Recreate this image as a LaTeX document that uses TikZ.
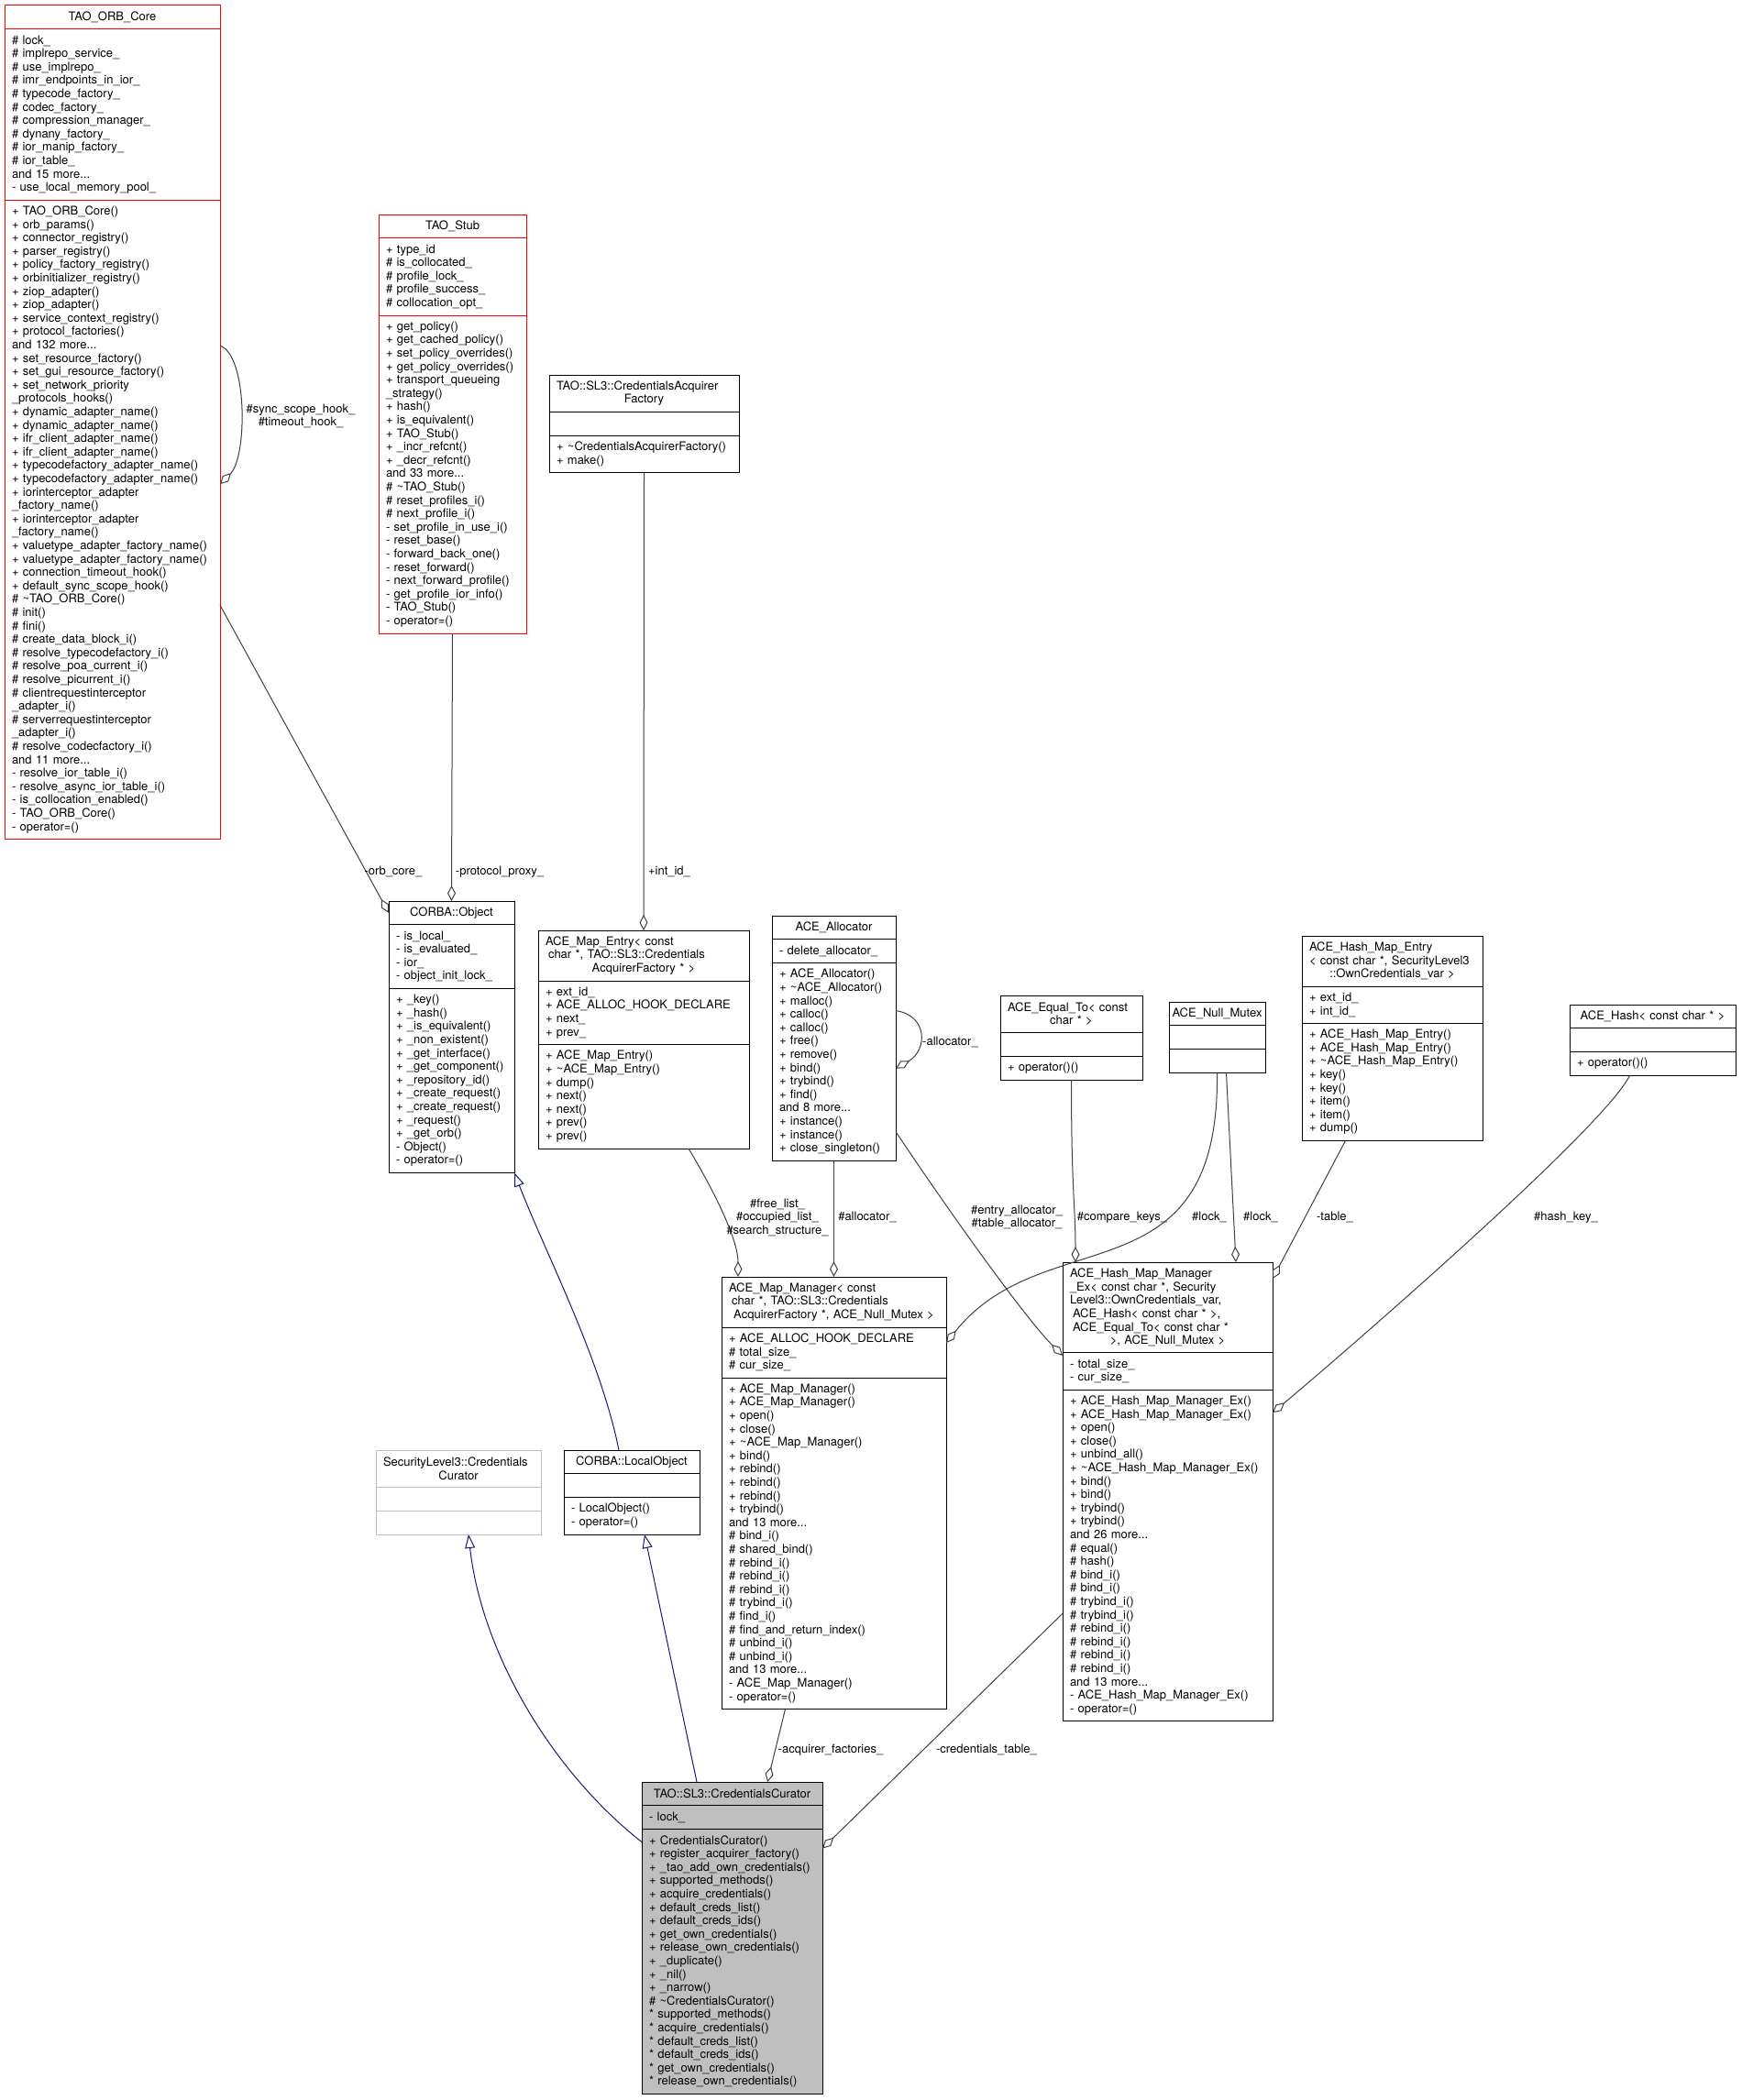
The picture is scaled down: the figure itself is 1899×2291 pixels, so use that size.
\documentclass[tikz,border=0pt]{standalone}
\usepackage{fontspec}
\setmainfont{TeX Gyre Heros}
\usepackage{tikz}
\usetikzlibrary{positioning,arrows.meta}

\definecolor{edgegray}{HTML}{404040}
\definecolor{inhblue}{HTML}{191970}
\definecolor{boxgray}{HTML}{BFBFBF}
\newcommand{\umlfont}{\fontsize{13}{14.6}\selectfont}

\begin{document}
\begin{tikzpicture}[x=1pt,y=1pt,
    sec/.style={draw=black, line width=1pt, inner xsep=8pt, inner ysep=0pt,
        outer sep=0pt, align=left, font=\umlfont},
    hd/.style={sec, align=center},
    rows/.style={minimum height=14.6*#1+11.2},
    agg/.style={edgegray, line width=1pt, -{Diamond[open,length=17pt,width=9pt]}},
    isa/.style={inhblue, line width=1pt, -{Triangle[open,length=15pt,width=11pt]}},
    lbl/.style={font=\umlfont, inner sep=0pt, align=center}]

    \useasboundingbox (0,0) rectangle (1899,-2291);

    % TAO_ORB_Core (red: truncated class)
    \node[hd, draw=red, text width=219pt, rows=1, anchor=north west] (orbT) at (5,-6) {TAO\_ORB\_Core};
    \node[sec, draw=red, text width=219pt, rows=12, below=0pt of orbT] (orbA)
        {\# lock\_\\\# implrepo\_service\_\\\# use\_implrepo\_\\\# imr\_endpoints\_in\_ior\_\\
         \# typecode\_factory\_\\\# codec\_factory\_\\\# compression\_manager\_\\\# dynany\_factory\_\\
         \# ior\_manip\_factory\_\\\# ior\_table\_\\and 15 more...\\- use\_local\_memory\_pool\_};
    \node[sec, draw=red, text width=219pt, rows=47, below=0pt of orbA] (orbM)
        {+ TAO\_ORB\_Core()\\+ orb\_params()\\+ connector\_registry()\\+ parser\_registry()\\
         + policy\_factory\_registry()\\+ orbinitializer\_registry()\\+ ziop\_adapter()\\+ ziop\_adapter()\\
         + service\_context\_registry()\\+ protocol\_factories()\\and 132 more...\\
         + set\_resource\_factory()\\+ set\_gui\_resource\_factory()\\+ set\_network\_priority\\
         \_protocols\_hooks()\\+ dynamic\_adapter\_name()\\+ dynamic\_adapter\_name()\\
         + ifr\_client\_adapter\_name()\\+ ifr\_client\_adapter\_name()\\
         + typecodefactory\_adapter\_name()\\+ typecodefactory\_adapter\_name()\\
         + iorinterceptor\_adapter\\\_factory\_name()\\+ iorinterceptor\_adapter\\\_factory\_name()\\
         + valuetype\_adapter\_factory\_name()\\+ valuetype\_adapter\_factory\_name()\\
         + connection\_timeout\_hook()\\+ default\_sync\_scope\_hook()\\\# \textasciitilde{}TAO\_ORB\_Core()\\
         \# init()\\\# fini()\\\# create\_data\_block\_i()\\\# resolve\_typecodefactory\_i()\\
         \# resolve\_poa\_current\_i()\\\# resolve\_picurrent\_i()\\\# clientrequestinterceptor\\
         \_adapter\_i()\\\# serverrequestinterceptor\\\_adapter\_i()\\\# resolve\_codecfactory\_i()\\
         and 11 more...\\- resolve\_ior\_table\_i()\\- resolve\_async\_ior\_table\_i()\\
         - is\_collocation\_enabled()\\- TAO\_ORB\_Core()\\- operator=()};

    % TAO_Stub (red: truncated class)
    \node[hd, draw=red, text width=145pt, rows=1, anchor=north west] (stubT) at (413,-234) {TAO\_Stub};
    \node[sec, draw=red, text width=145pt, rows=5, below=0pt of stubT] (stubA)
        {+ type\_id\\\# is\_collocated\_\\\# profile\_lock\_\\\# profile\_success\_\\\# collocation\_opt\_};
    \node[sec, draw=red, text width=145pt, rows=23, below=0pt of stubA] (stubM)
        {+ get\_policy()\\+ get\_cached\_policy()\\+ set\_policy\_overrides()\\+ get\_policy\_overrides()\\
         + transport\_queueing\\\_strategy()\\+ hash()\\+ is\_equivalent()\\+ TAO\_Stub()\\
         + \_incr\_refcnt()\\+ \_decr\_refcnt()\\and 33 more...\\\# \textasciitilde{}TAO\_Stub()\\
         \# reset\_profiles\_i()\\\# next\_profile\_i()\\- set\_profile\_in\_use\_i()\\- reset\_base()\\
         - forward\_back\_one()\\- reset\_forward()\\- next\_forward\_profile()\\
         - get\_profile\_ior\_info()\\- TAO\_Stub()\\- operator=()};

    % TAO::SL3::CredentialsAcquirerFactory
    \node[sec, text width=191pt, rows=2, anchor=north west] (facT) at (599,-409)
        {TAO::SL3::CredentialsAcquirer\\\makebox[\hsize]{Factory}};
    \node[sec, text width=191pt, rows=1, below=0pt of facT] (facA) {};
    \node[sec, text width=191pt, rows=2, below=0pt of facA] (facM)
        {+ \textasciitilde{}CredentialsAcquirerFactory()\\+ make()};

    % CORBA::Object
    \node[hd, text width=121pt, rows=1, anchor=north west] (objT) at (424,-983) {CORBA::Object};
    \node[sec, text width=121pt, rows=4, below=0pt of objT] (objA)
        {- is\_local\_\\- is\_evaluated\_\\- ior\_\\- object\_init\_lock\_};
    \node[sec, text width=121pt, rows=13, below=0pt of objA] (objM)
        {+ \_key()\\+ \_hash()\\+ \_is\_equivalent()\\+ \_non\_existent()\\+ \_get\_interface()\\
         + \_get\_component()\\+ \_repository\_id()\\+ \_create\_request()\\+ \_create\_request()\\
         + \_request()\\+ \_get\_orb()\\- Object()\\- operator=()};

    % ACE_Map_Entry
    \node[sec, text width=214pt, rows=3, anchor=north west] (entT) at (587,-1015)
        {ACE\_Map\_Entry< const\\\hspace*{3pt}char *, TAO::SL3::Credentials\\
         \makebox[\hsize]{AcquirerFactory * >}};
    \node[sec, text width=214pt, rows=4, below=0pt of entT] (entA)
        {+ ext\_id\_\\+ ACE\_ALLOC\_HOOK\_DECLARE\\+ next\_\\+ prev\_};
    \node[sec, text width=214pt, rows=7, below=0pt of entA] (entM)
        {+ ACE\_Map\_Entry()\\+ \textasciitilde{}ACE\_Map\_Entry()\\+ dump()\\+ next()\\+ next()\\
         + prev()\\+ prev()};

    % ACE_Allocator
    \node[hd, text width=119pt, rows=1, anchor=north west] (allocT) at (842,-999) {ACE\_Allocator};
    \node[sec, text width=119pt, rows=1, below=0pt of allocT] (allocA) {- delete\_allocator\_};
    \node[sec, text width=119pt, rows=14, below=0pt of allocA] (allocM)
        {+ ACE\_Allocator()\\+ \textasciitilde{}ACE\_Allocator()\\+ malloc()\\+ calloc()\\+ calloc()\\
         + free()\\+ remove()\\+ bind()\\+ trybind()\\+ find()\\and 8 more...\\+ instance()\\
         + instance()\\+ close\_singleton()};

    % ACE_Equal_To
    \node[sec, text width=139pt, rows=2, anchor=north west] (eqT) at (1091,-1086)
        {ACE\_Equal\_To< const\\\makebox[\hsize]{char * >}};
    \node[sec, text width=139pt, rows=1, below=0pt of eqT] (eqA) {};
    \node[sec, text width=139pt, rows=1, below=0pt of eqA] (eqM) {+ operator()()};

    % ACE_Null_Mutex
    \node[hd, inner xsep=3pt, text width=99pt, rows=1, anchor=north west] (mtxT) at (1275,-1093) {ACE\_Null\_Mutex};
    \node[sec, inner xsep=3pt, text width=99pt, rows=1, below=0pt of mtxT] (mtxA) {};
    \node[sec, inner xsep=3pt, text width=99pt, rows=1, below=0pt of mtxA] (mtxM) {};

    % ACE_Hash_Map_Entry
    \node[sec, text width=181pt, rows=3, anchor=north west] (hentT) at (1420,-1021)
        {ACE\_Hash\_Map\_Entry\\< const char *, SecurityLevel3\\
         \makebox[\hsize]{::OwnCredentials\_var >}};
    \node[sec, text width=181pt, rows=2, below=0pt of hentT] (hentA) {+ ext\_id\_\\+ int\_id\_};
    \node[sec, text width=181pt, rows=8, below=0pt of hentA] (hentM)
        {+ ACE\_Hash\_Map\_Entry()\\+ ACE\_Hash\_Map\_Entry()\\+ \textasciitilde{}ACE\_Hash\_Map\_Entry()\\
         + key()\\+ key()\\+ item()\\+ item()\\+ dump()};

    % ACE_Hash
    \node[hd, text width=165pt, rows=1, anchor=north west] (hashT) at (1712,-1096) {ACE\_Hash< const char * >};
    \node[sec, text width=165pt, rows=1, below=0pt of hashT] (hashA) {};
    \node[sec, text width=165pt, rows=1, below=0pt of hashA] (hashM) {+ operator()()};

    % ACE_Map_Manager
    \node[sec, text width=229pt, rows=3, anchor=north west] (mgrT) at (787,-1393)
        {ACE\_Map\_Manager< const\\\hspace*{3pt}char *, TAO::SL3::Credentials\\
         \makebox[\hsize]{AcquirerFactory *, ACE\_Null\_Mutex >}};
    \node[sec, text width=229pt, rows=3, below=0pt of mgrT] (mgrA)
        {+ ACE\_ALLOC\_HOOK\_DECLARE\\\# total\_size\_\\\# cur\_size\_};
    \node[sec, text width=229pt, rows=24, below=0pt of mgrA] (mgrM)
        {+ ACE\_Map\_Manager()\\+ ACE\_Map\_Manager()\\+ open()\\+ close()\\+ \textasciitilde{}ACE\_Map\_Manager()\\
         + bind()\\+ rebind()\\+ rebind()\\+ rebind()\\+ trybind()\\and 13 more...\\\# bind\_i()\\
         \# shared\_bind()\\\# rebind\_i()\\\# rebind\_i()\\\# rebind\_i()\\\# trybind\_i()\\\# find\_i()\\
         \# find\_and\_return\_index()\\\# unbind\_i()\\\# unbind\_i()\\and 13 more...\\
         - ACE\_Map\_Manager()\\- operator=()};

    % ACE_Hash_Map_Manager_Ex
    \node[sec, text width=213pt, rows=6, anchor=north west] (hmgrT) at (1159,-1377)
        {ACE\_Hash\_Map\_Manager\\\_Ex< const char *, Security\\Level3::OwnCredentials\_var,\\
         \hspace*{3pt}ACE\_Hash< const char * >,\\\hspace*{3pt}ACE\_Equal\_To< const char *\\
         \makebox[\hsize]{>, ACE\_Null\_Mutex >}};
    \node[sec, text width=213pt, rows=2, below=0pt of hmgrT] (hmgrA) {- total\_size\_\\- cur\_size\_};
    \node[sec, text width=213pt, rows=24, below=0pt of hmgrA] (hmgrM)
        {+ ACE\_Hash\_Map\_Manager\_Ex()\\+ ACE\_Hash\_Map\_Manager\_Ex()\\+ open()\\+ close()\\
         + unbind\_all()\\+ \textasciitilde{}ACE\_Hash\_Map\_Manager\_Ex()\\+ bind()\\+ bind()\\+ trybind()\\
         + trybind()\\and 26 more...\\\# equal()\\\# hash()\\\# bind\_i()\\\# bind\_i()\\\# trybind\_i()\\
         \# trybind\_i()\\\# rebind\_i()\\\# rebind\_i()\\\# rebind\_i()\\\# rebind\_i()\\and 13 more...\\
         - ACE\_Hash\_Map\_Manager\_Ex()\\- operator=()};

    % SecurityLevel3::CredentialsCurator (grey: not documented)
    \node[sec, draw=boxgray, text width=164pt, rows=2, anchor=north west] (slT) at (410,-1582)
        {SecurityLevel3::Credentials\\\makebox[\hsize]{Curator}};
    \node[sec, draw=boxgray, text width=164pt, rows=1, below=0pt of slT] (slA) {};
    \node[sec, draw=boxgray, text width=164pt, rows=1, below=0pt of slA] (slM) {};

    % CORBA::LocalObject
    \node[hd, text width=132pt, rows=1, anchor=north west] (loT) at (615,-1582) {CORBA::LocalObject};
    \node[sec, text width=132pt, rows=1, below=0pt of loT] (loA) {};
    \node[sec, text width=132pt, rows=2, below=0pt of loA] (loM) {- LocalObject()\\- operator=()};

    % TAO::SL3::CredentialsCurator
    \node[hd, fill=boxgray, text width=181pt, rows=1, anchor=north west] (curT) at (700,-1944)
        {TAO::SL3::CredentialsCurator};
    \node[sec, fill=boxgray, text width=181pt, rows=1, below=0pt of curT] (curA) {- lock\_};
    \node[sec, fill=boxgray, text width=181pt, rows=19, below=0pt of curA] (curM)
        {+ CredentialsCurator()\\+ register\_acquirer\_factory()\\+ \_tao\_add\_own\_credentials()\\
         + supported\_methods()\\+ acquire\_credentials()\\+ default\_creds\_list()\\
         + default\_creds\_ids()\\+ get\_own\_credentials()\\+ release\_own\_credentials()\\
         + \_duplicate()\\+ \_nil()\\+ \_narrow()\\\# \textasciitilde{}CredentialsCurator()\\
         {*} supported\_methods()\\{*} acquire\_credentials()\\{*} default\_creds\_list()\\
         {*} default\_creds\_ids()\\{*} get\_own\_credentials()\\{*} release\_own\_credentials()};

    % aggregation edges
    \draw[agg] ([yshift=-159pt]orbM.north east) .. controls +(30,-10) and +(30,30) .. ([yshift=-310pt]orbM.north east);
    \node[lbl] (lHook) at (328,-454) {\#sync\_scope\_hook\_\\\#timeout\_hook\_};
    \draw[agg] ([yshift=-442pt]orbM.north east) -- (objT.west);
    \node[lbl] (lOrb) at (429,-951) {-orb\_core\_};
    \draw[agg] (stubM.south) -- (objT.north);
    \node[lbl] (lProxy) at (545,-951) {-protocol\_proxy\_};
    \draw[agg] (facM.south) -- (entT.north);
    \node[lbl] (lIntId) at (730,-951) {+int\_id\_};
    \draw[agg] ([yshift=-52pt]allocM.north east) .. controls +(35,-5) and +(35,20) .. ([yshift=-115pt]allocM.north east);
    \node[lbl, anchor=west] (lAlloc) at (1006,-1137) {-allocator\_};
    \draw[agg] (allocM.south) -- (mgrT.north);
    \node[lbl] (lAllocMgr) at (946,-1328) {\#allocator\_};
    \draw[agg] ([xshift=49pt]entM.south) .. controls +(30,-50) and +(0,40) .. ([xshift=-104.5pt]mgrT.north);
    \node[lbl] (lLists) at (848,-1328) {\#free\_list\_\\\#occupied\_list\_\\\#search\_structure\_};
    \draw[agg] ([yshift=-184pt]allocM.north east) .. controls +(60,-90) and +(-40,40) .. ([yshift=-3pt]hmgrA.north west);
    \node[lbl] (lEntAlloc) at (1109,-1328) {\#entry\_allocator\_\\\#table\_allocator\_};
    \draw[agg] (eqM.south) .. controls +(0,-120) and +(0,60) .. ([xshift=-100.5pt]hmgrT.north);
    \node[lbl] (lCmp) at (1224,-1328) {\#compare\_keys\_};
    \draw[agg] (mtxM.south) .. controls +(3,-250) and +(108,135) .. ([yshift=-17pt]mgrA.north east);
    \node[lbl] (lLockA) at (1319,-1328) {\#lock\_};
    \draw[agg] ([xshift=10pt]mtxM.south) -- ([xshift=74.5pt]hmgrT.north);
    \node[lbl] (lLockB) at (1375,-1328) {\#lock\_};
    \draw[agg] ([xshift=-51pt]hentM.south) -- ([yshift=-18pt]hmgrT.north east);
    \node[lbl] (lTable) at (1456,-1328) {-table\_};
    \draw[agg] ([xshift=-25pt]hashM.south) .. controls +(-30,-60) and +(60,50) .. ([yshift=-25pt]hmgrM.north east);
    \node[lbl] (lHashKey) at (1708,-1328) {\#hash\_key\_};
    \draw[agg] ([xshift=-53pt]mgrM.south) -- ([xshift=38.5pt]curT.north);
    \node[lbl] (lFactories) at (906,-1909) {-acquirer\_factories\_};
    \draw[agg] ([yshift=-244pt]hmgrM.north west) -- ([yshift=-21pt]curM.north east);
    \node[lbl] (lCredTable) at (1076,-1909) {-credentials\_table\_};

    % inheritance edges
    \draw[isa] ([yshift=-14pt]curM.north west) .. controls +(-100,79) and +(14,-127) .. ([xshift=11pt]slM.south);
    \draw[isa] ([xshift=-38.5pt]curT.north) -- ([xshift=14pt]loM.south);
    \draw[isa] ([xshift=-14pt]loT.north) .. controls +(-20,100) and +(35,-90) .. (objM.south east);
\end{tikzpicture}
\end{document}
